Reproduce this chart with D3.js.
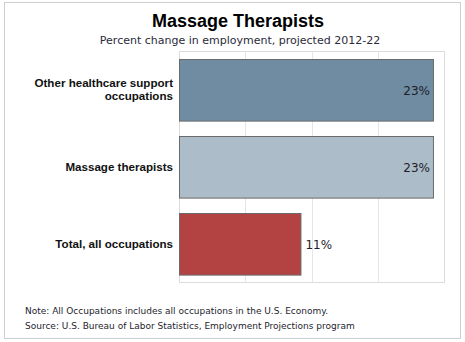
<!DOCTYPE html>
<html>
<head>
<meta charset="utf-8">
<script src="https://cdn.jsdelivr.net/npm/d3@7"></script>
<style>
  body { margin: 0; background: #fff; }
  svg { display: block; }
</style>
</head>
<body>
<div id="chart"></div>
<script>
// projected employment change, 2012-22
const categories = ['Other healthcare support occupations', 'Massage therapists', 'Total, all occupations'];
const labelLines = [['Other healthcare support', 'occupations'], ['Massage therapists'], ['Total, all occupations']];
const values = [23, 23, 11];
const barColors = ['#6f8ca2', '#acbdc9', '#b34343'];
const gridTicks = [6, 12, 18, 24];
const notes = [
  'Note: All Occupations includes all occupations in the U.S. Economy.',
  'Source: U.S. Bureau of Labor Statistics, Employment Projections program'
];

const width = 465, height = 342;
const plot = { left: 179, right: 444, top: 51, bottom: 282 };

const svg = d3.select('#chart').append('svg')
  .attr('width', width)
  .attr('height', height);

// outer frame
svg.append('rect')
  .attr('x', 4.5).attr('y', 2.5)
  .attr('width', 456).attr('height', 336)
  .attr('fill', '#fff')
  .attr('stroke', '#cfcfcf');

svg.append('text')
  .attr('x', 238).attr('y', 27)
  .attr('text-anchor', 'middle')
  .style('font', 'bold 18px "Liberation Sans", Arial, sans-serif')
  .attr('fill', '#000')
  .text('Massage Therapists');

svg.append('text')
  .attr('x', 240).attr('y', 44)
  .attr('text-anchor', 'middle')
  .style('font', '11px "DejaVu Sans", Tahoma, sans-serif')
  .attr('fill', '#2b2b3a')
  .text('Percent change in employment, projected 2012-22');

const x = d3.scaleLinear().domain([0, 24]).range([plot.left, plot.right]);
const y = d3.scaleBand().domain(categories).range([plot.top, plot.bottom])
  .paddingInner(0.2).paddingOuter(0.1);

// plot area border + vertical grid
svg.append('rect')
  .attr('x', plot.left + 0.5).attr('y', plot.top + 0.5)
  .attr('width', plot.right - plot.left).attr('height', plot.bottom - plot.top)
  .attr('fill', 'none')
  .attr('stroke', '#dcdcdc');

svg.selectAll('.grid').data(gridTicks.slice(0, -1)).enter()
  .append('line')
    .attr('class', 'grid')
    .attr('x1', d => Math.round(x(d)) + 0.5)
    .attr('x2', d => Math.round(x(d)) + 0.5)
    .attr('y1', plot.top)
    .attr('y2', plot.bottom)
    .attr('stroke', '#e6e6e6');

svg.selectAll('.bar').data(values).enter()
  .append('rect')
    .attr('class', 'bar')
    .attr('x', x(0) + 0.5)
    .attr('y', (d, i) => Math.round(y(categories[i])) + 0.5)
    .attr('width', d => x(d) - x(0))
    .attr('height', y.bandwidth())
    .attr('fill', (d, i) => barColors[i])
    .attr('stroke', '#6b6b6b');

// value labels: inside the bar when it is long, outside otherwise
svg.selectAll('.val').data(values).enter()
  .append('text')
    .attr('class', 'val')
    .attr('x', d => d > 15 ? x(d) - 3 : x(d) + 5)
    .attr('y', (d, i) => y(categories[i]) + y.bandwidth() / 2 + 5)
    .attr('text-anchor', d => d > 15 ? 'end' : 'start')
    .style('font', '12px "DejaVu Sans", Tahoma, sans-serif')
    .attr('fill', '#1e1e2a')
    .text(d => d + '%');

const cat = svg.selectAll('.cat').data(labelLines).enter()
  .append('text')
    .attr('class', 'cat')
    .attr('text-anchor', 'end')
    .style('font', 'bold 11.6px "Liberation Sans", Arial, sans-serif')
    .attr('fill', '#111');

cat.selectAll('tspan').data((d, i) => d.map((t, j) => ({ t, j, n: d.length, i }))).enter()
  .append('tspan')
    .attr('x', 173)
    .attr('y', d => y(categories[d.i]) + y.bandwidth() / 2 + 4 + (d.j - (d.n - 1) / 2) * 13)
    .text(d => d.t);

svg.selectAll('.note').data(notes).enter()
  .append('text')
    .attr('class', 'note')
    .attr('x', 25)
    .attr('y', (d, i) => 314 + i * 15)
    .style('font', '9px "DejaVu Sans", Tahoma, sans-serif')
    .attr('fill', '#1e1e2e')
    .text(d => d);
</script>
</body>
</html>
